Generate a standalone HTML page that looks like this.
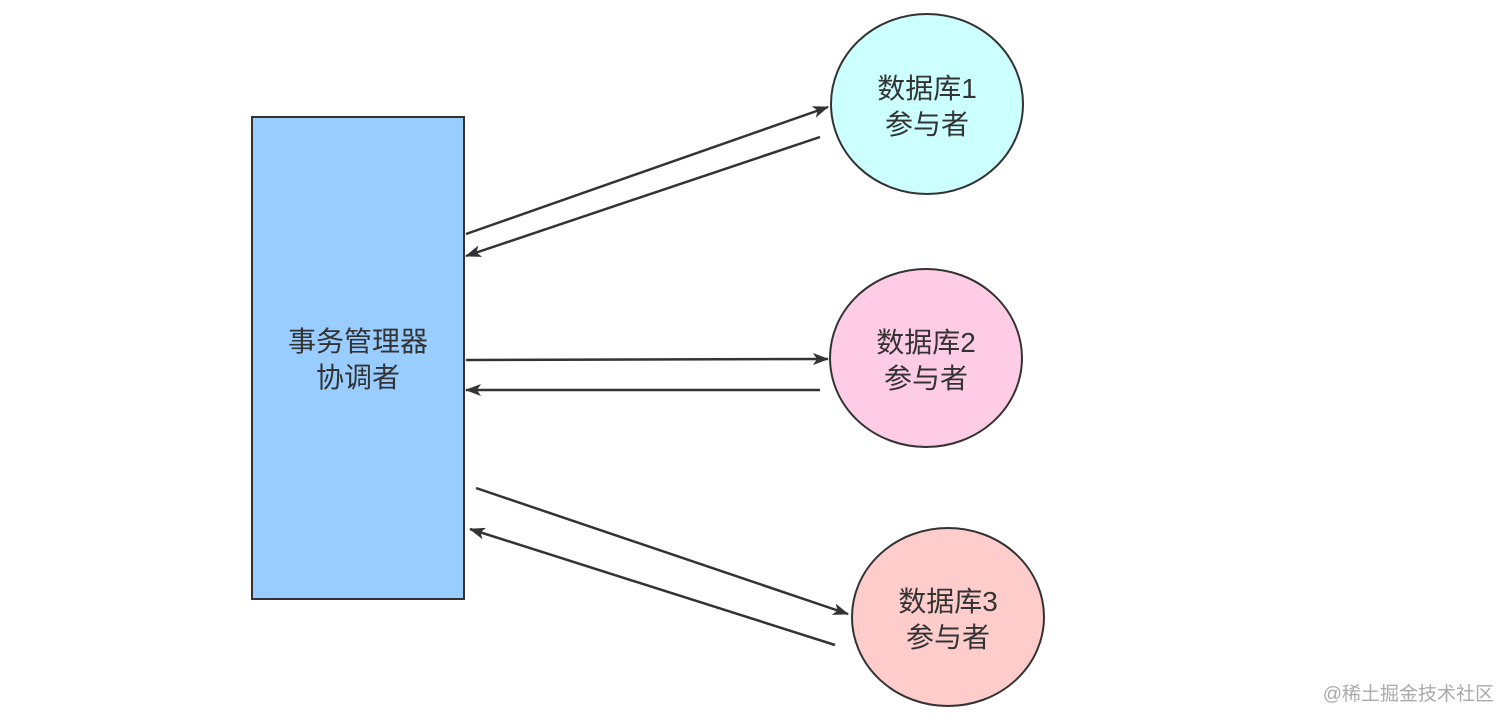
<!DOCTYPE html>
<html><head><meta charset="utf-8"><style>
html,body{margin:0;padding:0;background:#fff;}
</style></head><body>
<svg width="1512" height="726" xmlns="http://www.w3.org/2000/svg" style="display:block">
<defs><marker id="a" markerWidth="16" markerHeight="12" refX="15" refY="6" orient="auto" markerUnits="userSpaceOnUse"><path d="M0,0 L16,6 L0,12 L4,6 Z" fill="#333"/></marker></defs>
<rect x="252" y="117" width="212" height="482" fill="#99ccff" stroke="#333" stroke-width="2"/>
<text x="358" y="351" font-family="Liberation Sans, Noto Sans CJK SC, sans-serif" font-size="28" fill="#333" text-anchor="middle">事务管理器</text>
<text x="358" y="387" font-family="Liberation Sans, Noto Sans CJK SC, sans-serif" font-size="28" fill="#333" text-anchor="middle">协调者</text>
<ellipse cx="927" cy="104" rx="96" ry="90" fill="#ccffff" stroke="#333" stroke-width="2"/>
<ellipse cx="926" cy="358" rx="96" ry="89" fill="#ffcce6" stroke="#333" stroke-width="2"/>
<ellipse cx="948" cy="617" rx="96" ry="89" fill="#ffcccc" stroke="#333" stroke-width="2"/>
<g font-family="Liberation Sans, Noto Sans CJK SC, sans-serif" font-size="28" fill="#333" text-anchor="middle">
<text x="927" y="98">数据库1</text><text x="927" y="134">参与者</text>
<text x="926" y="352">数据库2</text><text x="926" y="388">参与者</text>
<text x="948" y="611">数据库3</text><text x="948" y="647">参与者</text>
</g>
<g stroke="#333" stroke-width="2.5" fill="none" marker-end="url(#a)">
<line x1="466" y1="234" x2="828" y2="107"/>
<line x1="820" y1="137" x2="466" y2="256"/>
<line x1="466" y1="360" x2="828" y2="359"/>
<line x1="820" y1="390" x2="466" y2="390"/>
<line x1="476" y1="488" x2="848" y2="614"/>
<line x1="835" y1="645" x2="470" y2="529"/>
</g>
<text x="1494" y="700" font-family="Liberation Sans, Noto Sans CJK SC, sans-serif" font-size="19" fill="#aaa" text-anchor="end">@稀土掘金技术社区</text>
</svg>
</body></html>
